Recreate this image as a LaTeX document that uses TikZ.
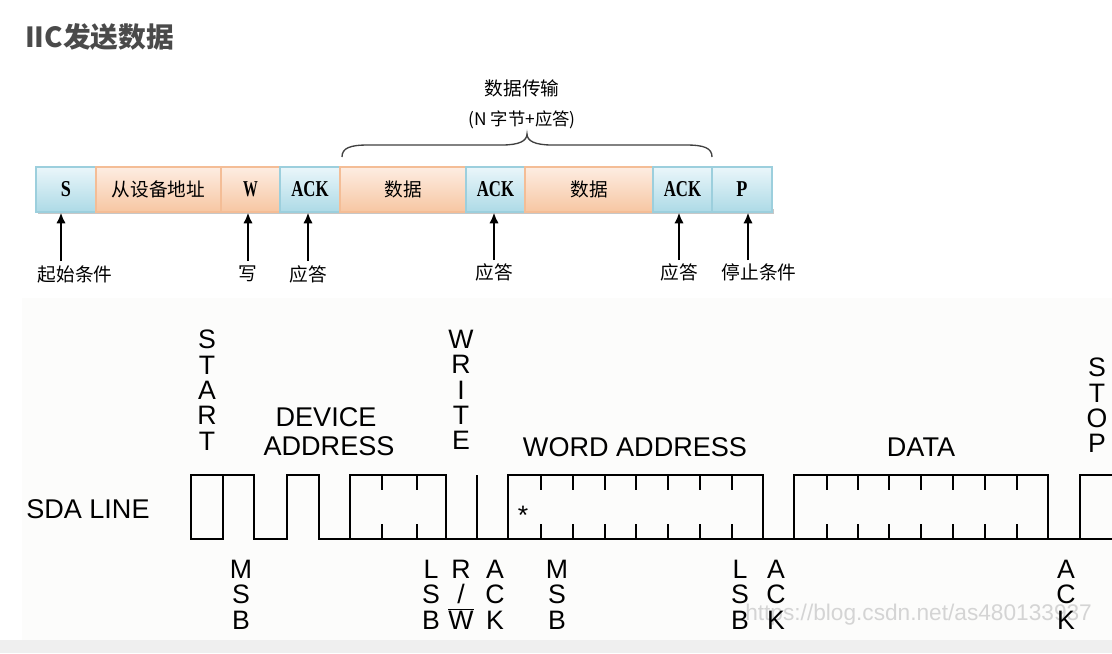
\documentclass[tikz,border=0pt]{standalone}
\usepackage{fontspec}
\setmainfont{Liberation Sans}
\newfontfamily\cjk{Noto Sans CJK SC}
\newfontfamily\boxfont{Liberation Serif}
\newfontfamily\wavefont{Liberation Sans}
\usetikzlibrary{arrows.meta}
\definecolor{blueTop}{HTML}{EAF6FA}
\definecolor{blueBot}{HTML}{ADDAE6}
\definecolor{blueEdge}{HTML}{9CCFDD}
\definecolor{orTop}{HTML}{FDEDE2}
\definecolor{orBot}{HTML}{F7C6A2}
\definecolor{orEdge}{HTML}{F4BD96}
\definecolor{titlegray}{HTML}{4A4A4A}
\definecolor{lowbg}{HTML}{FCFCFB}
\definecolor{band}{HTML}{EFEFEF}
\definecolor{wmark}{HTML}{D4D4D4}
\begin{document}
\begin{tikzpicture}[x=0.75pt,y=-0.75pt,
  segbox/.style={draw, line width=0.9pt, minimum height=33.75pt, inner sep=0pt},
  bluebox/.style={segbox, draw=blueEdge, top color=blueTop, bottom color=blueBot},
  orbox/.style={segbox, draw=orEdge, top color=orTop, bottom color=orBot},
  cjktext/.style={font=\cjk\fontsize{14pt}{16pt}\selectfont, inner sep=0pt},
  uparr/.style={-{Latex[length=8pt,width=7pt]}, line width=1.5pt},
  wave/.style={line width=1.5pt, line join=miter},
  tick/.style={line width=1.5pt},
  wlab/.style={font=\wavefont\fontsize{20pt}{19pt}\selectfont, align=center, inner sep=0pt, anchor=north},
  wtext/.style={font=\wavefont\fontsize{20.3pt}{22pt}\selectfont, inner sep=0pt, anchor=base}
]
\useasboundingbox (0,0) rectangle (1112,653);
\fill[white] (0,0) rectangle (1112,653);
\fill[lowbg] (22,298) rectangle (1112,640);
\fill[band] (0,640) rectangle (1112,653);

% title
\node[font=\cjk\bfseries\fontsize{20.8pt}{24pt}\selectfont, text=titlegray, anchor=west, inner sep=0pt] (title) at (25,37) {IIC发送数据};

% bar shadow
\fill[black!22] (38,209) rectangle (774,214);

% frame boxes
\node[bluebox, minimum width=45pt]    (bS)  at (66,189.5)  {\scalebox{0.8}[1]{\boxfont\bfseries\fontsize{17pt}{19pt}\selectfont S}};
\node[orbox,   minimum width=93.75pt] (bAd) at (158.5,189.5) {};
\node[cjktext] (tAd) at (bAd) {从设备地址};
\node[orbox,   minimum width=44.25pt] (bW)  at (250.5,189.5) {\scalebox{0.65}[1]{\boxfont\bfseries\fontsize{17pt}{19pt}\selectfont W}};
\node[bluebox, minimum width=45pt]    (bA1) at (310,189.5)  {\scalebox{0.74}[1]{\boxfont\bfseries\fontsize{17pt}{19pt}\selectfont ACK}};
\node[orbox,   minimum width=94.5pt]  (bD1) at (403,189.5)  {};
\node[cjktext] (tD1) at (bD1) {数据};
\node[bluebox, minimum width=44.25pt] (bA2) at (495.5,189.5) {\scalebox{0.74}[1]{\boxfont\bfseries\fontsize{17pt}{19pt}\selectfont ACK}};
\node[orbox,   minimum width=96pt]    (bD2) at (589,189.5)  {};
\node[cjktext] (tD2) at (bD2) {数据};
\node[bluebox, minimum width=44.25pt] (bA3) at (682.5,189.5) {\scalebox{0.74}[1]{\boxfont\bfseries\fontsize{17pt}{19pt}\selectfont ACK}};
\node[bluebox, minimum width=45pt]    (bP)  at (742,189.5)  {\scalebox{0.8}[1]{\boxfont\bfseries\fontsize{17pt}{19pt}\selectfont P}};

% brace and its labels
\draw[line width=1pt, black!75] (342,157) .. controls (342,148) and (350,145) .. (368,145) -- (502,145)
  .. controls (519,145) and (527,141) .. (527,134)
  .. controls (527,141) and (535,145) .. (552,145) -- (686,145)
  .. controls (704,145) and (712,148) .. (712,157);
\node[cjktext] (tx1) at (522,88) {数据传输};
\node[font=\cjk\fontsize{13pt}{15pt}\selectfont, inner sep=0pt] (tx2) at (522,120) {(N 字节+应答)};

% arrows and labels
\node[cjktext] (lS)  at (75,274)  {起始条件};
\node[cjktext] (lW)  at (248,274) {写};
\node[cjktext] (lA1) at (308,274) {应答};
\node[cjktext] (lA2) at (494,272) {应答};
\node[cjktext] (lA3) at (679,272) {应答};
\node[cjktext] (lP)  at (759,272) {停止条件};
\coordinate (aS)  at (61,261);
\coordinate (aW)  at (248,261);
\coordinate (aA1) at (308,261);
\coordinate (aA2) at (494,260);
\coordinate (aA3) at (679,260);
\coordinate (aP)  at (748,260);
\draw[uparr] (aS)  -- (aS  |- bS.south);
\draw[uparr] (aW)  -- (aW  |- bW.south);
\draw[uparr] (aA1) -- (aA1 |- bA1.south);
\draw[uparr] (aA2) -- (aA2 |- bA2.south);
\draw[uparr] (aA3) -- (aA3 |- bA3.south);
\draw[uparr] (aP)  -- (aP  |- bP.south);

% watermark
\node[font=\wavefont\fontsize{17pt}{20pt}\selectfont, text=wmark, anchor=base west, inner sep=0pt] (wm) at (745,620) {https://blog.csdn.net/as480133937};

% SDA waveform
\draw[wave] (191,475) rectangle (223,539);
\draw[wave] (223,475) -- (254,475) -- (254,539) -- (287,539) -- (287,475) -- (319,475) -- (319,539) -- (1112,539);
\draw[wave] (350,475) rectangle (446,539);
\draw[wave] (477,475) -- (477,539);
\draw[wave] (508,475) rectangle (763,539);
\draw[wave] (794,475) rectangle (1048,539);
\draw[wave] (1080,539) -- (1080,475) -- (1113,475);
\foreach \t in {382,417,541,573,605,636,668,700,732,827,858,889,921,953,985,1017}{
  \draw[tick] (\t,475) -- (\t,490);
  \draw[tick] (\t,524) -- (\t,539);
}
\node[font=\wavefont\fontsize{20pt}{22pt}\selectfont, anchor=base, inner sep=0pt] (star) at (523,524) {*};

% waveform labels
\node[wtext, anchor=base west] (sda) at (26,518) {SDA LINE};
\node[wlab] (start) at (207,330) {S\\T\\A\\R\\T};
\node[wtext] (dev1) at (326,426) {DEVICE};
\node[wtext] (dev2) at (329,455.5) {ADDRESS};
\node[wlab] (write) at (461,330) {W\\R\\I\\T\\E};
\node[wtext] (word) at (635,456) {WORD ADDRESS};
\node[wtext] (data) at (921,456) {DATA};
\node[wlab] (stop) at (1097,358) {S\\T\\O\\P};
\node[wlab] (msb1) at (241,560) {M\\S\\B};
\node[wlab] (lsb1) at (431,560) {L\\S\\B};
\node[wlab] (rw)   at (461,560) {R\\/\\$\overline{\hbox{W}}$};
\node[wlab] (ack1) at (495,560) {A\\C\\K};
\node[wlab] (msb2) at (557,560) {M\\S\\B};
\node[wlab] (lsb2) at (740,560) {L\\S\\B};
\node[wlab] (ack2) at (776,560) {A\\C\\K};
\node[wlab] (ack3) at (1066,560) {A\\C\\K};
\end{tikzpicture}
\end{document}
